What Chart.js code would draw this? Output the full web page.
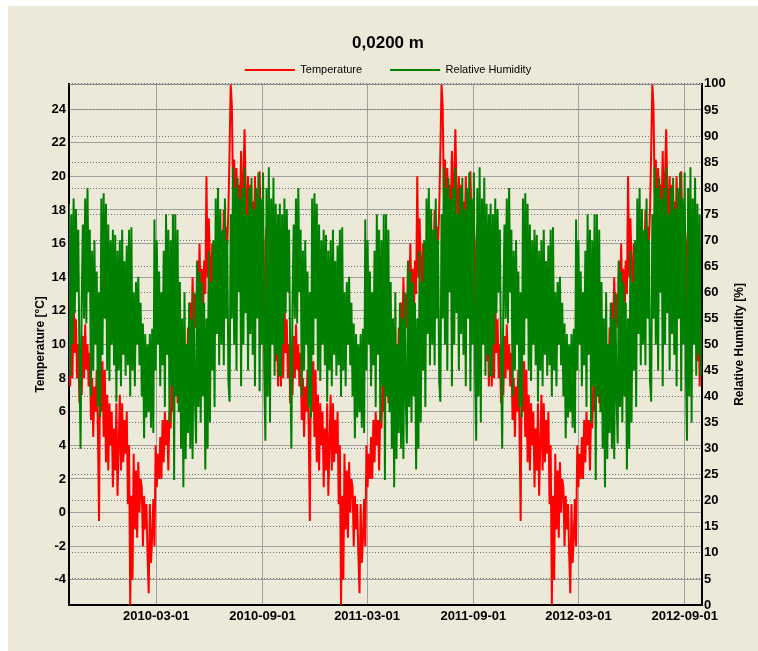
<!DOCTYPE html>
<html lang="en">
<head>
    <meta charset="UTF-8">
    <title>0,0200 m</title>
    <script src="https://cdn.jsdelivr.net/npm/chart.js@4"></script>
    <style>
        body { margin: 0; background: #ffffff; }
        .panel {
            position: absolute;
            left: 8px;
            top: 6px;
            width: 750px;
            height: 645px;
            background: #ece9d8;
        }
    </style>
</head>
<body>
    <div class="panel">
        <canvas id="sensorChart" width="750" height="645"></canvas>
    </div>

    <script>
        // One year of logger values (every 2nd day from 1 Oct), the record repeats each year
        const cycleLength = 365;
        const stepDays = 2;
        const yearsShown = 3;

        const temperatureYear = [
            12.5, 7.5, 11, 8, 12.8, 9.5, 11.5, 8, 10, 6.5, 9, 7, 10.5, 8, 11.2, 8.5, 10, 7.5, 9.5, 5.5,
            8, 4.5, 7.5, 6, 8.5, 5, -0.5, 9.8, 6, 9, 4.5, 8.5, 3, 7, 2.5, 6.5, 4, 6, 1.5, 5,
            2.5, 6.5, 1, 4, 7, 2.5, 6.5, 3, 5.5, 3.5, 6, 0.5, 4, -5.5, 1, -4, 3.5, -1, 2.5, -1.5,
            3, 0, 2, 1.5, -2, 1, -1, 0.5, -2.5, -4.8, 0.5, -3, -1.5, 0.8, -2, 4, 1.5, 3.5, 2, 4.5,
            2, 5.5, 3, 6, 4, 5.5, 2.5, 6, 5, 8, 6, 10, 7, 11, 6.5, 9, 7.5, 6, 8, 6.5,
            7, 9, 7.5, 11, 9.5, 12.5, 10, 14, 11, 13, 11, 15, 12, 16, 12.5, 14.5, 11.5, 15, 13, 20,
            14, 17.5, 15, 13, 16, 14, 15.5, 13.5, 16, 14, 17, 15, 16.5, 14.5, 18, 15, 17, 16, 18, 21.5,
            25.5, 24.2, 19, 21, 17, 20.5, 16.5, 19.5, 18, 21.5, 17, 20, 22.8, 19, 17.5, 20, 16.5, 19.5, 17, 18.5,
            16, 20, 17, 19, 15.5, 20.3, 17, 18, 14, 10.2, 16, 17, 15, 16.5, 14.5, 16, 14, 15, 13, 9,
            12, 7.5, 11
        ];

        const humidityYear = [
            77, 44, 75, 50, 78, 56, 76, 60, 72, 48, 30, 58, 73, 55, 78, 54, 80, 60, 72, 40,
            68, 45, 70, 50, 64, 38, 60, 36, 78, 48, 79, 55, 77, 45, 73, 43, 70, 50, 72, 46,
            71, 39, 68, 45, 70, 42, 72, 48, 66, 44, 69, 46, 72, 40, 72.5, 45, 60, 42, 62, 50,
            63, 46, 58, 40, 54, 32, 52, 36, 50, 37, 52, 34, 53, 33, 74, 45, 70, 50, 64, 42,
            60, 46, 68, 38, 75, 48, 72, 35, 70, 42, 75, 24, 75, 40, 72, 37, 62, 30, 55, 22.6,
            60, 28, 50, 33, 58, 30, 55, 28, 60, 40, 31, 66, 38, 64, 35, 62, 40, 58, 26, 55,
            30, 68, 35, 62, 45, 70, 38, 78, 52, 80, 46, 76, 50, 72, 46, 78, 55, 70, 43, 39,
            75, 55, 84, 50, 80, 45, 82, 60, 78, 42, 80, 50, 84, 56, 75, 45, 80, 52, 82, 48,
            76, 42, 80, 55, 83, 41, 78, 50, 83, 45, 31.5, 80, 40, 84, 35, 78, 50, 82, 44, 77,
            48, 75, 44
        ];

        // Axes: days since 2009-10-01 on x
        const dateTickDays = [151, 335, 516, 700, 882, 1066];
        const dateTickLabels = ['2010-03-01', '2010-09-01', '2011-03-01', '2011-09-01', '2012-03-01', '2012-09-01'];
        const temperatureTicks = [-4, -2, 0, 2, 4, 6, 8, 10, 12, 14, 16, 18, 20, 22, 24];
        const humidityTicks = [0, 5, 10, 15, 20, 25, 30, 35, 40, 45, 50, 55, 60, 65, 70, 75, 80, 85, 90, 95, 100];

        function toPoints(yearValues) {
            const points = [];
            for (let year = 0; year < yearsShown; year++) {
                yearValues.forEach((value, i) => {
                    points.push({ x: year * cycleLength + i * stepDays, y: value });
                });
            }
            return points;
        }

        const fontFamily = '"Liberation Sans", Arial, sans-serif';
        Chart.defaults.font.family = fontFamily;
        Chart.defaults.color = '#000000';

        const chartExtras = {
            id: 'chartExtras',
            beforeInit(chart) {
                // legend padding is only wanted between the two entries
                const fit = chart.legend.fit;
                chart.legend.fit = function () {
                    fit.call(this);
                    this.height = 47.5;
                };
            },
            afterDraw(chart) {
                const { ctx, chartArea } = chart;
                ctx.save();
                ctx.strokeStyle = '#808080';
                ctx.lineWidth = 1;
                ctx.beginPath();
                ctx.moveTo(chartArea.left, chartArea.top + 0.5);
                ctx.lineTo(chartArea.right, chartArea.top + 0.5);
                ctx.stroke();

                ctx.translate(732, (chartArea.top + chartArea.bottom) / 2);
                ctx.rotate(-Math.PI / 2);
                ctx.font = 'bold 12px ' + fontFamily;
                ctx.fillStyle = '#000000';
                ctx.textAlign = 'center';
                ctx.textBaseline = 'middle';
                ctx.fillText('Relative Humidity [%]', 0, 0);
                ctx.restore();
            }
        };

        const ctx = document.getElementById('sensorChart').getContext('2d');
        new Chart(ctx, {
            type: 'line',
            data: {
                datasets: [{
                    label: 'Temperature',
                    data: toPoints(temperatureYear),
                    borderColor: '#ff0000',
                    backgroundColor: '#ff0000',
                    borderWidth: 2,
                    pointRadius: 0,
                    tension: 0,
                    yAxisID: 'y',
                    order: 1
                }, {
                    label: 'Relative Humidity',
                    data: toPoints(humidityYear),
                    borderColor: '#008000',
                    backgroundColor: '#008000',
                    borderWidth: 2,
                    pointRadius: 0,
                    tension: 0,
                    yAxisID: 'y1',
                    order: 0
                }]
            },
            options: {
                responsive: false,
                animation: false,
                events: [],
                layout: { padding: { left: 10, top: 0, right: 0, bottom: 0 } },
                plugins: {
                    title: {
                        display: true,
                        text: '0,0200 m',
                        font: { size: 17, weight: 'bold' },
                        color: '#000000',
                        padding: { top: 27, bottom: -17 }
                    },
                    legend: {
                        labels: {
                            boxWidth: 50,
                            boxHeight: 2,
                            padding: 28,
                            font: { size: 11 },
                            color: '#000000',
                            sort: (a, b) => a.datasetIndex - b.datasetIndex,
                            generateLabels(chart) {
                                const items = Chart.defaults.plugins.legend.labels.generateLabels(chart);
                                items.forEach(item => { item.lineWidth = 0; });
                                return items;
                            }
                        }
                    },
                    tooltip: { enabled: false }
                },
                scales: {
                    x: {
                        type: 'linear',
                        min: 0,
                        max: 1096,
                        z: 1,
                        grid: { color: '#a0a0a0', lineWidth: 1, drawTicks: false },
                        border: { color: '#000000', width: 2 },
                        ticks: {
                            autoSkip: false,
                            maxRotation: 0,
                            padding: 4,
                            font: { size: 13, weight: 'bold' },
                            callback: value => dateTickLabels[dateTickDays.indexOf(value)]
                        },
                        afterBuildTicks: scale => { scale.ticks = dateTickDays.map(v => ({ value: v })); },
                        afterFit: scale => { scale.height = 46; }
                    },
                    y: {
                        position: 'left',
                        min: -5.5,
                        max: 25.5,
                        z: 1,
                        grid: { color: '#a0a0a0', lineWidth: 1, drawTicks: false },
                        border: { color: '#000000', width: 2 },
                        ticks: { autoSkip: false, padding: 3, font: { size: 13, weight: 'bold' } },
                        title: {
                            display: true,
                            text: 'Temperature [°C]',
                            font: { size: 12, weight: 'bold' },
                            padding: { top: 15.5, bottom: 0 }
                        },
                        afterBuildTicks: scale => { scale.ticks = temperatureTicks.map(v => ({ value: v })); },
                        afterFit: scale => { scale.width = 51; }
                    },
                    y1: {
                        position: 'right',
                        min: 0,
                        max: 100,
                        z: 1,
                        grid: { color: '#707070', lineWidth: 1, drawTicks: false },
                        border: { color: '#000000', width: 2, dash: [1, 2] },
                        ticks: { autoSkip: false, padding: 2, font: { size: 13, weight: 'bold' } },
                        afterBuildTicks: scale => { scale.ticks = humidityTicks.map(v => ({ value: v })); },
                        afterFit: scale => { scale.width = 56; }
                    }
                }
            },
            plugins: [chartExtras]
        });
    </script>
</body>
</html>
